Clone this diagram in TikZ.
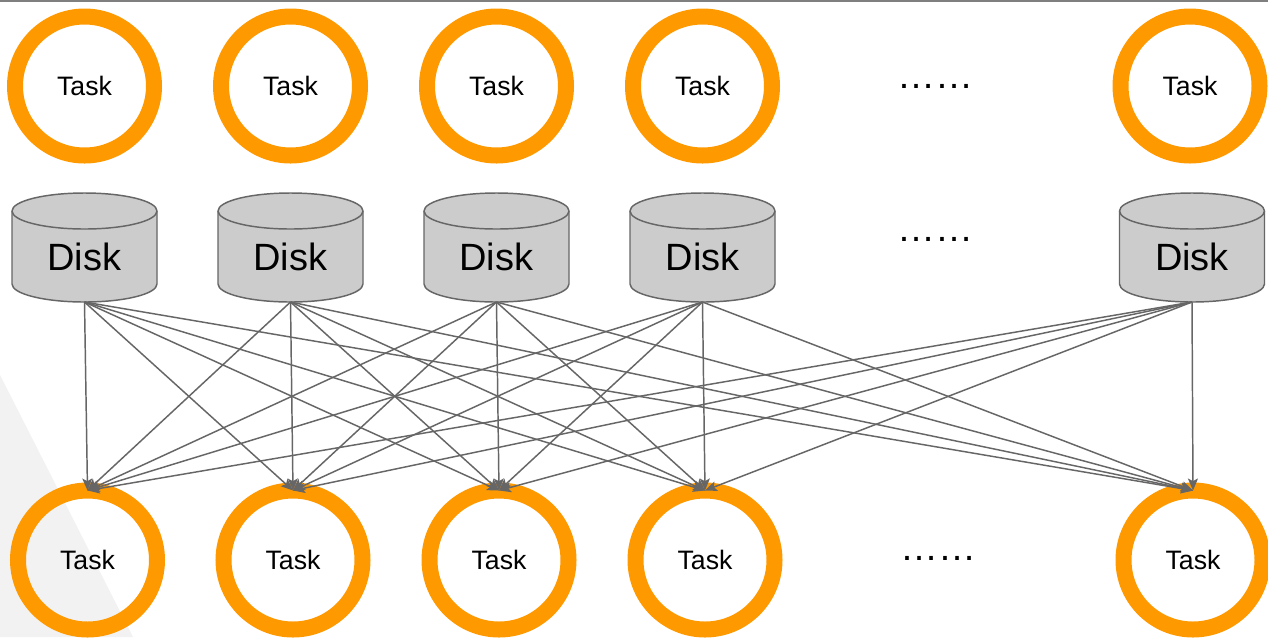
\documentclass[tikz,border=0pt]{standalone}
\usepackage{fontspec}
\setmainfont{Liberation Sans}
\usetikzlibrary{arrows.meta}
\definecolor{ringorange}{HTML}{FF9900}
\definecolor{linkgray}{HTML}{666666}
\definecolor{diskgray}{HTML}{CCCCCC}
\definecolor{rulegray}{HTML}{7F7F7F}
\definecolor{shadegray}{HTML}{F2F2F2}

\begin{document}
\begin{tikzpicture}[x=0.75pt,y=0.75pt,
  task/.style={circle, draw=ringorange, line width=12pt, minimum size=104.25pt,
    inner sep=0pt, outer sep=0pt, font=\fontsize{20}{24}\selectfont},
  diskbody/.style={rectangle, minimum width=108.75pt, minimum height=68.25pt,
    inner sep=0pt, outer sep=0pt, font=\fontsize{28.5}{34}\selectfont},
  diskshape/.style={fill=diskgray, draw=linkgray, line width=1.1pt},
  link/.style={draw=linkgray, line width=1.1pt, -{Stealth[length=9pt,width=7.5pt,inset=2pt]}},
  dots/.style={font=\fontsize{28.5}{34}\selectfont, inner sep=0pt, anchor=base},
]
\clip (0,0) rectangle (1268,-637);
\fill[white] (0,0) rectangle (1268,-637);

% pale wedge in the lower left corner
\fill[shadegray] (0,-375) -- (133,-637) -- (0,-637) -- cycle;

% rule along the top edge
\draw[rulegray, line width=1.5pt] (0,-1) -- (1268,-1);

% upper row of tasks
\foreach \n/\x in {1/84.5, 2/290.5, 3/496.5, 4/702.5, 5/1190}
  \node[task] (t\n) at (\x,-86) {Task};

% disks: cylinder outline, then the labelled body node
\foreach \n/\x in {1/84.5, 2/290.5, 3/496.5, 4/702.5, 5/1192} {
  \path[diskshape] (\x-72.5,-211) -- (\x-72.5,-284)
    arc[start angle=180, end angle=360, x radius=72.5, y radius=18]
    -- (\x+72.5,-211)
    arc[start angle=0, end angle=180, x radius=72.5, y radius=18] -- cycle;
  \draw[linkgray, line width=1.1pt] (\x-72.5,-211)
    arc[start angle=180, end angle=360, x radius=72.5, y radius=18];
  \node[diskbody] (d\n) at (\x,-256.5) {Disk};
}

% lower row of tasks
\foreach \n/\x in {1/87.5, 2/293, 3/499, 4/705, 5/1193}
  \node[task] (b\n) at (\x,-560) {Task};

% ellipses for the elided columns
\node[dots] (e1) at (935,-88) {……};
\node[dots] (e2) at (935,-241) {……};
\node[dots] (e3) at (938.5,-560) {……};

% every disk feeds every lower task
\foreach \i in {1,...,5}
  \foreach \j in {1,...,5}
    \draw[link] (d\i.south) -- (b\j.north);
\end{tikzpicture}
\end{document}
